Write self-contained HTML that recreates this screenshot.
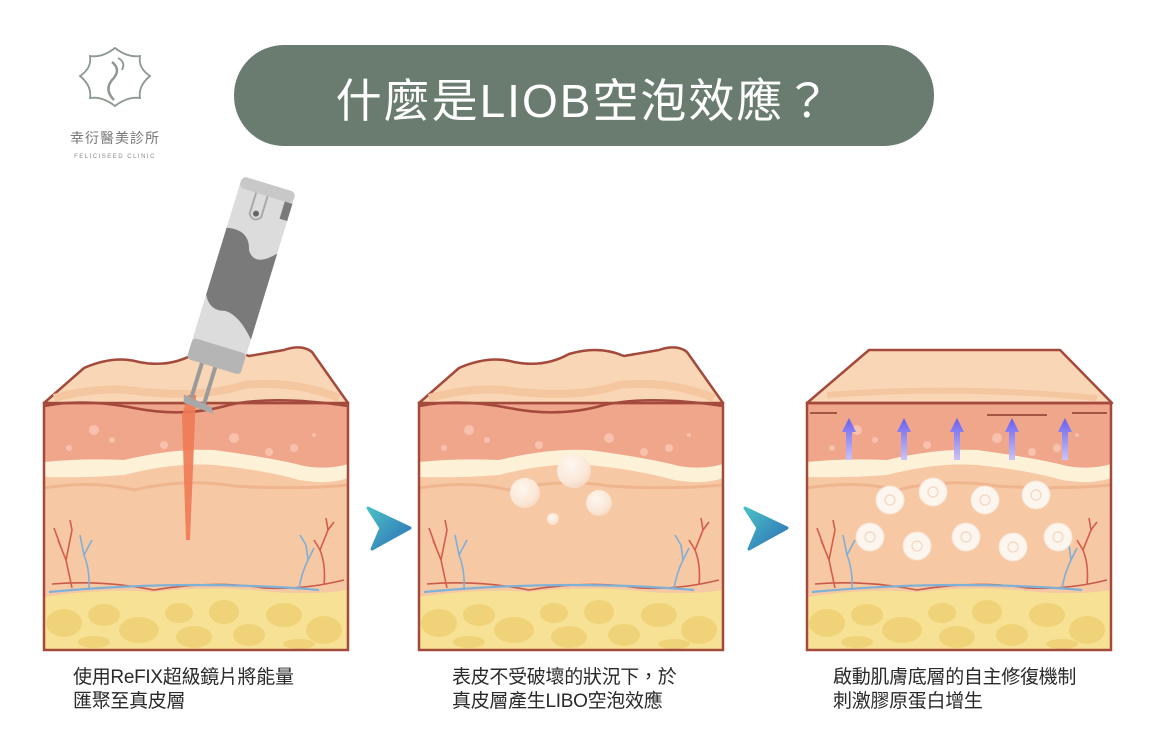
<!DOCTYPE html>
<html><head><meta charset="utf-8"><style>
html,body{margin:0;padding:0;background:#fff;}
body{width:1174px;height:742px;overflow:hidden;position:relative;font-family:"Liberation Sans","Noto Sans CJK TC",sans-serif;}
.cap{position:absolute;font-size:19px;line-height:24px;color:#2a2a2a;font-family:"Liberation Sans","Noto Sans CJK TC",sans-serif;letter-spacing:-0.3px;}
</style></head><body>
<svg width="1174" height="742" viewBox="0 0 1174 742" xmlns="http://www.w3.org/2000/svg" style="position:absolute;left:0;top:0">
<defs>
<linearGradient id="arr" x1="0" y1="0" x2="1" y2="1"><stop offset="0" stop-color="#49c0c4"/><stop offset="1" stop-color="#2f6fb8"/></linearGradient>
<linearGradient id="pur" x1="0" y1="0" x2="0" y2="1"><stop offset="0" stop-color="#6a5ef0"/><stop offset="1" stop-color="#c9c4f6"/></linearGradient>
<radialGradient id="bub" cx="0.4" cy="0.35" r="0.7"><stop offset="0" stop-color="#fffaf3"/><stop offset="0.7" stop-color="#fbe9da"/><stop offset="1" stop-color="#f6d9c2"/></radialGradient>
<g id="body">
  <rect x="0" y="63" width="304" height="247" fill="#f0a68b"/>
  <path d="M0,190 Q80,175 150,185 Q230,195 304,182 L304,260 L0,262 Z" fill="#f7c7a3"/>
  <path d="M0,128 Q40,125 80,125 Q130,112 170,115 Q230,122 260,130 Q285,135 304,128 L304,260 L0,262 Z" fill="#f7c8a4"/>
  <path d="M0,122 Q40,118 80,120 Q130,108 170,110 Q230,118 260,126 Q285,130 304,124 L304,138 Q285,145 255,140 Q220,130 170,125 Q130,122 80,135 Q40,138 0,137 Z" fill="#fdf1d8"/>
  <path d="M0,148 Q50,140 90,150 Q140,138 190,146 Q250,150 304,145" stroke="#efb58e" stroke-width="3" fill="none"/>
  <g fill="#f7c1ae"><circle cx="50" cy="90" r="5"/><circle cx="68" cy="100" r="3"/><circle cx="120" cy="105" r="4"/><circle cx="25" cy="108" r="3"/><circle cx="190" cy="98" r="5"/><circle cx="225" cy="112" r="4"/><circle cx="250" cy="108" r="4"/><circle cx="270" cy="95" r="2"/></g>
  <path d="M0,257 Q60,248 110,252 Q170,245 230,252 Q270,255 304,250 L304,310 L0,310 Z" fill="#f6e194"/>
  <g fill="#f0d379">
    <ellipse cx="20" cy="283" rx="18" ry="14"/><ellipse cx="60" cy="275" rx="16" ry="11"/><ellipse cx="95" cy="290" rx="20" ry="13"/><ellipse cx="135" cy="273" rx="14" ry="10"/><ellipse cx="150" cy="297" rx="18" ry="11"/><ellipse cx="180" cy="272" rx="15" ry="12"/><ellipse cx="205" cy="295" rx="16" ry="11"/><ellipse cx="240" cy="275" rx="18" ry="12"/><ellipse cx="280" cy="290" rx="18" ry="14"/><ellipse cx="50" cy="302" rx="16" ry="6"/><ellipse cx="255" cy="304" rx="16" ry="5"/></g>
  <path d="M8,244 Q60,240 110,250 Q170,240 220,248 Q260,250 300,240" stroke="#c95a48" stroke-width="1.6" fill="none"/>
  <path d="M5,252 Q80,245 150,245 Q220,245 275,250" stroke="#7fb1d6" stroke-width="2.2" fill="none"/>
  <path d="M28,248 L22,220 L14,200 M22,220 L28,190 M18,210 L10,188 M28,190 L26,180" stroke="#d55c4b" stroke-width="1.6" fill="none"/>
  <path d="M45,250 Q46,230 40,215 L36,195 M40,215 L48,200" stroke="#80aed6" stroke-width="1.6" fill="none"/>
  <path d="M280,245 Q282,225 276,210 L284,190 L282,178 M276,210 L270,200 M284,190 L290,182" stroke="#d55c4b" stroke-width="1.6" fill="none"/>
  <path d="M255,248 Q258,232 264,220 L262,205 M264,220 L270,208 M262,205 L256,195" stroke="#80aed6" stroke-width="1.6" fill="none"/>
  <rect x="0" y="63" width="304" height="247" fill="none" stroke="#a34a3c" stroke-width="2.5"/>
</g>
<g id="wtop">
  <path d="M0,63 L40,28 Q70,15 95,22 Q125,28 150,14 Q180,5 205,16 L240,10 Q258,4 268,12 L304,63 Z" fill="#f9d6b5" stroke="#a34a3c" stroke-width="2.5" stroke-linejoin="round"/>
  <path d="M10,58 Q60,45 100,52 Q160,58 200,45 Q250,40 295,58" stroke="#f5c7a0" stroke-width="8" fill="none"/>
  <path d="M0,66 Q40,58 90,68 Q140,78 185,65 Q230,55 304,66" stroke="#a34a3c" stroke-width="2.5" fill="none"/>
</g>
</defs>

<!-- logo -->
<g stroke="#8c9890" stroke-width="1.8" fill="none">
<path d="M115,48 Q128,58 140,56 Q138,68 150,76 Q138,86 140,98 Q128,96 115,106 Q102,96 90,98 Q92,86 80,76 Q92,68 90,56 Q102,58 115,48 Z"/>
<path d="M112,62 Q122,70 112,80 Q104,90 114,100" stroke-width="2.5"/>
<path d="M118,58 Q126,62 122,70" />
</g>
<text x="115" y="143" text-anchor="middle" font-size="14" fill="#777" font-family="Liberation Sans,Noto Sans CJK TC,sans-serif" letter-spacing="1">幸衍醫美診所</text>
<text x="115" y="158" text-anchor="middle" font-size="6" fill="#888" font-family="Liberation Sans,sans-serif" letter-spacing="1.5">FELICISEED CLINIC</text>

<!-- title -->
<rect x="234" y="45" width="700" height="101" rx="50" fill="#6a7c6f"/>
<text x="584" y="117" text-anchor="middle" font-size="46" fill="#fff" font-family="Liberation Sans,Noto Sans CJK TC,sans-serif" letter-spacing="2">什麼是LIOB空泡效應？</text>

<!-- block 1 -->
<g transform="translate(44,340)"><use href="#body"/><use href="#wtop"/></g>
<g>
  <path d="M182,415 L188,395 L196,395 L190,540 L186,540 Z" fill="#ee7a55" opacity="0.9"/>
  <g transform="translate(268,188) rotate(17)">
    <line x1="-12" y1="180" x2="-12" y2="225" stroke="#9a9a9a" stroke-width="4"/>
    <line x1="2" y1="180" x2="2" y2="225" stroke="#9a9a9a" stroke-width="4"/>
    <path d="M-20,222 L10,226 L14,232 L-18,230 Z" fill="#a8a8a8"/>
    <rect x="-28" y="0" width="56" height="185" rx="6" fill="#dcdcdc"/>
    <path d="M-28,50 Q-5,45 0,65 Q10,80 28,60 L28,150 Q10,130 -5,130 Q-20,135 -28,120 Z" fill="#7a7a7a"/>
    <rect x="-28" y="165" width="56" height="22" rx="4" fill="#b5b5b5"/>
    <rect x="-28" y="-4" width="56" height="12" rx="5" fill="#c8c8c8"/>
    <rect x="20" y="8" width="8" height="18" fill="#7a7a7a"/>
    <path d="M-10,8 L-10,30 Q-4,38 2,30 L2,8" stroke="#aaa" stroke-width="2" fill="none"/>
    <circle cx="-4" cy="28" r="3" fill="#666"/>
  </g>
</g>

<!-- arrows -->
<path d="M368,508 L410,528 L372,549 L381,528 Z" fill="url(#arr)" stroke="url(#arr)" stroke-width="3" stroke-linejoin="round"/>
<path d="M745,508 L787,528 L749,549 L758,528 Z" fill="url(#arr)" stroke="url(#arr)" stroke-width="3" stroke-linejoin="round"/>

<!-- block 2 -->
<g transform="translate(419,340)"><use href="#body"/><use href="#wtop"/></g>
<g fill="url(#bub)" opacity="0.95">
<circle cx="574" cy="471" r="17"/><circle cx="525" cy="493" r="15"/><circle cx="599" cy="503" r="13"/><circle cx="553" cy="519" r="6"/>
</g>

<!-- block 3 -->
<g transform="translate(807,340)"><use href="#body"/>
  <path d="M0,63 L62,10 L253,10 L305,63 Z" fill="#f9d6b5" stroke="#a34a3c" stroke-width="2.5" stroke-linejoin="round"/>
  <path d="M20,55 Q150,45 290,58" stroke="#f5c7a0" stroke-width="6" fill="none"/>
  <line x1="0" y1="63" x2="305" y2="63" stroke="#a34a3c" stroke-width="2.5"/>
  <line x1="3" y1="73" x2="30" y2="73" stroke="#8a3a30" stroke-width="1.5"/>
  <line x1="180" y1="75" x2="240" y2="75" stroke="#8a3a30" stroke-width="1.5"/>
  <line x1="265" y1="73" x2="300" y2="73" stroke="#8a3a30" stroke-width="1.5"/>
</g>
<g fill="url(#pur)">
<path d="M842,432 L849,418 L856,432 L852,432 L852,460 L846,460 L846,432 Z"/>
<path d="M897,432 L904,418 L911,432 L907,432 L907,460 L901,460 L901,432 Z"/>
<path d="M950,432 L957,418 L964,432 L960,432 L960,460 L954,460 L954,432 Z"/>
<path d="M1005,432 L1012,418 L1019,432 L1015,432 L1015,460 L1009,460 L1009,432 Z"/>
<path d="M1058,432 L1065,418 L1072,432 L1068,432 L1068,460 L1062,460 L1062,432 Z"/>
</g>
<g fill="#fdf6ef" stroke="#f8e3d2" stroke-width="1">
<circle cx="890" cy="500" r="14"/><circle cx="933" cy="492" r="14"/><circle cx="985" cy="500" r="14"/><circle cx="1036" cy="495" r="14"/>
<circle cx="870" cy="537" r="14"/><circle cx="917" cy="546" r="14"/><circle cx="966" cy="537" r="14"/><circle cx="1013" cy="547" r="14"/><circle cx="1058" cy="537" r="14"/>
</g>
<g fill="none" stroke="#f3d6c0" stroke-width="1.2">
<circle cx="890" cy="500" r="5"/><circle cx="933" cy="492" r="5"/><circle cx="985" cy="500" r="5"/><circle cx="1036" cy="495" r="5"/>
<circle cx="870" cy="537" r="5"/><circle cx="917" cy="546" r="5"/><circle cx="966" cy="537" r="5"/><circle cx="1013" cy="547" r="5"/><circle cx="1058" cy="537" r="5"/>
</g>
</svg>
<div class="cap" style="left:73px;top:666px">使用ReFIX超級鏡片將能量<br>匯聚至真皮層</div>
<div class="cap" style="left:452px;top:666px">表皮不受破壞的狀況下，於<br>真皮層產生LIBO空泡效應</div>
<div class="cap" style="left:833px;top:666px">啟動肌膚底層的自主修復機制<br>刺激膠原蛋白增生</div>
</body></html>
